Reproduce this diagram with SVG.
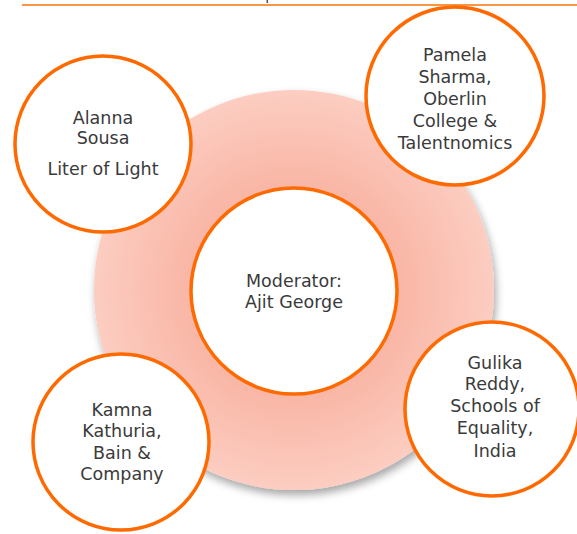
<svg xmlns="http://www.w3.org/2000/svg" width="577" height="534" viewBox="0 0 577 534">
<style>
.node circle { fill: #ffffff; stroke: #fe6a00; stroke-width: 3.5; }
.node text { font-family: "DejaVu Sans", "Liberation Sans", sans-serif; font-size: 17.5px; fill: #3a3a3a; text-anchor: middle; }
</style>
<defs>
<radialGradient id="bg" cx="294" cy="290" r="200" gradientUnits="userSpaceOnUse">
<stop offset="0" stop-color="#f7ac9b"/>
<stop offset="0.55" stop-color="#f9b7a7"/>
<stop offset="1" stop-color="#fccdc1"/>
</radialGradient>
<filter id="sh" x="-20%" y="-20%" width="140%" height="140%">
<feDropShadow dx="2" dy="5" stdDeviation="4" flood-color="#000" flood-opacity="0.35"/>
</filter>
</defs>
<rect x="0" y="0" width="577" height="534" fill="#ffffff"/>
<line x1="22" y1="5" x2="577" y2="5" stroke="#f79646" stroke-width="2"/>
<rect x="266.5" y="0" width="1.5" height="3" fill="#555"/>
<g id="connectors">
<circle id="ring" cx="294" cy="290" r="200" fill="url(#bg)" filter="url(#sh)"/>
</g>
<g id="moderator" class="node">
<circle cx="294" cy="291" r="103"/>
<text x="294" y="287">Moderator:</text>
<text x="294" y="308">Ajit George</text>
</g>
<g id="alanna" class="node">
<circle cx="103" cy="144" r="88"/>
<text x="103" y="124">Alanna</text>
<text x="103" y="144">Sousa</text>
<text x="103" y="175">Liter of Light</text>
</g>
<g id="pamela" class="node">
<circle cx="455" cy="96" r="89"/>
<text x="455" y="61">Pamela</text>
<text x="455" y="83">Sharma,</text>
<text x="455" y="105">Oberlin</text>
<text x="455" y="127">College &amp;</text>
<text x="455" y="149">Talentnomics</text>
</g>
<g id="gulika" class="node">
<circle cx="492" cy="409" r="87"/>
<text x="495" y="369">Gulika</text>
<text x="495" y="390">Reddy,</text>
<text x="495" y="412">Schools of</text>
<text x="495" y="434">Equality,</text>
<text x="495" y="457">India</text>
</g>
<g id="kamna" class="node">
<circle cx="121" cy="442" r="88"/>
<text x="122" y="416">Kamna</text>
<text x="122" y="437">Kathuria,</text>
<text x="122" y="459">Bain &amp;</text>
<text x="122" y="480">Company</text>
</g>
</svg>
